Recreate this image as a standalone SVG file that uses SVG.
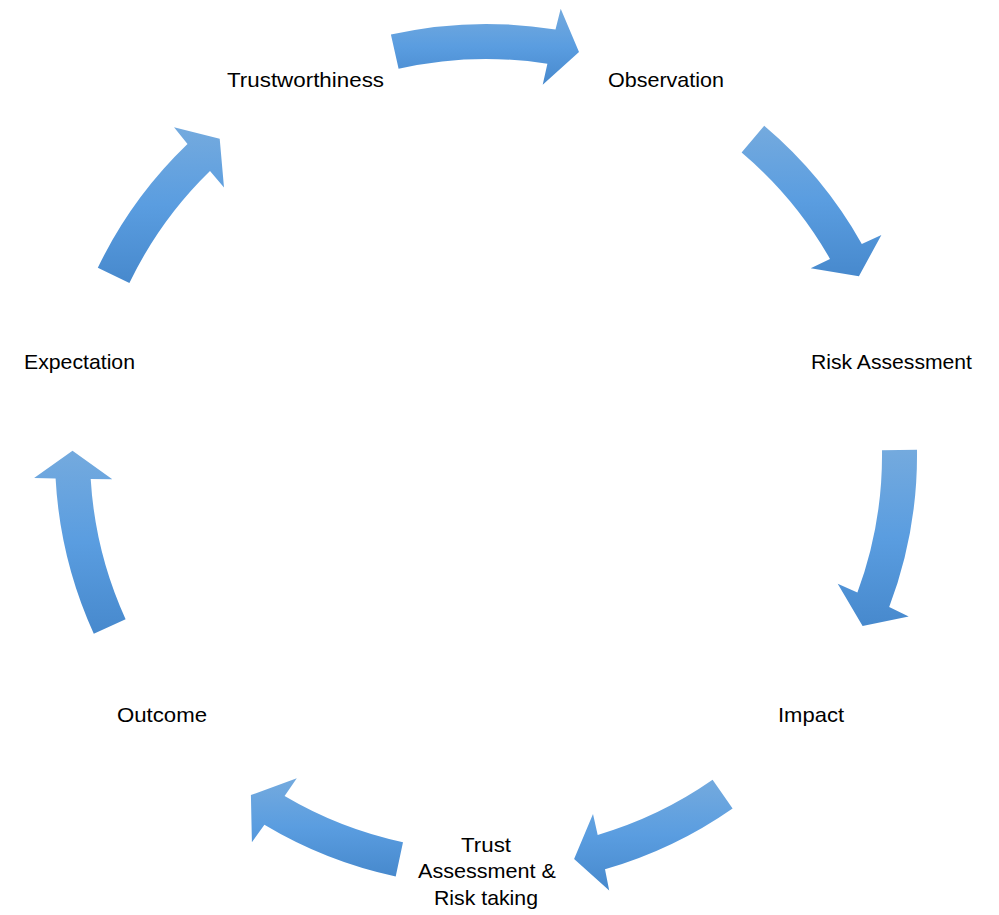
<svg xmlns="http://www.w3.org/2000/svg" width="999" height="915" viewBox="0 0 999 915">
<defs>
<linearGradient id="g" x1="0" y1="0" x2="0" y2="1">
<stop offset="0" stop-color="#74aade"/>
<stop offset="0.5" stop-color="#5a9de0"/>
<stop offset="1" stop-color="#4789cd"/>
</linearGradient>
</defs>
<style>
.arrow{fill:url(#g);stroke:none}
.lbl{font-family:"Liberation Sans",Arial,sans-serif;font-size:21px;fill:#000;text-anchor:middle}
</style>
<rect width="999" height="915" fill="#fff"/>
<g id="connectors">
<path class="arrow" d="M390.9,34.6 A431,431 0 0 1 555.5,29.6 L560.7,8.7 L579,52.1 L542.7,84.8 L547.4,63.8 A396,396 0 0 0 398.6,68.8 Z"/>
<path class="arrow" d="M764.2,125.8 A431,431 0 0 1 861.8,243.9 L881.4,234.9 L858.9,276.3 L810.7,268.3 L830,258.9 A396,396 0 0 0 741.6,152.5 Z"/>
<path class="arrow" d="M917,449.7 A431,431 0 0 1 889.2,607.1 L908.7,616.4 L862.6,625.9 L837.7,583.7 L857.4,592.5 A396,396 0 0 0 882,450.2 Z"/>
<path class="arrow" d="M732.6,808.5 A431,431 0 0 1 605,869.3 L609.2,890.4 L574.1,859 L593,813.9 L597.7,834.9 A396,396 0 0 0 712.6,779.8 Z"/>
<path class="arrow" d="M395.7,876.4 A431,431 0 0 1 264.4,824.7 L251.9,842.3 L250.9,795.1 L296.8,778.2 L284.6,796 A396,396 0 0 0 403,842.2 Z"/>
<path class="arrow" d="M93.8,633.7 A431,431 0 0 1 55.6,478.5 L34.1,477.9 L72.5,450.7 L112.3,479.2 L90.7,479 A396,396 0 0 0 125.6,619.2 Z"/>
<path class="arrow" d="M97.8,267.8 A431,431 0 0 1 187.5,144.1 L174,127.3 L219.7,138.7 L224,187.4 L210,171 A396,396 0 0 0 129.4,283 Z"/>
</g>
<g id="node-observation"><text class="lbl" x="666" y="86.5" textLength="116" lengthAdjust="spacingAndGlyphs">Observation</text></g>
<g id="node-risk-assessment"><text class="lbl" x="891.5" y="369" textLength="161" lengthAdjust="spacingAndGlyphs">Risk Assessment</text></g>
<g id="node-impact"><text class="lbl" x="811" y="721.5" textLength="66" lengthAdjust="spacingAndGlyphs">Impact</text></g>
<g id="node-trust-assessment">
<text class="lbl" x="486" y="851.5" textLength="50" lengthAdjust="spacingAndGlyphs">Trust</text>
<text class="lbl" x="487" y="878" textLength="138" lengthAdjust="spacingAndGlyphs">Assessment &amp;</text>
<text class="lbl" x="486" y="904.5" textLength="104" lengthAdjust="spacingAndGlyphs">Risk taking</text>
</g>
<g id="node-outcome"><text class="lbl" x="162" y="721.5" textLength="90" lengthAdjust="spacingAndGlyphs">Outcome</text></g>
<g id="node-expectation"><text class="lbl" x="79.5" y="369" textLength="111" lengthAdjust="spacingAndGlyphs">Expectation</text></g>
<g id="node-trustworthiness"><text class="lbl" x="305.5" y="86.5" textLength="157" lengthAdjust="spacingAndGlyphs">Trustworthiness</text></g>
</svg>
